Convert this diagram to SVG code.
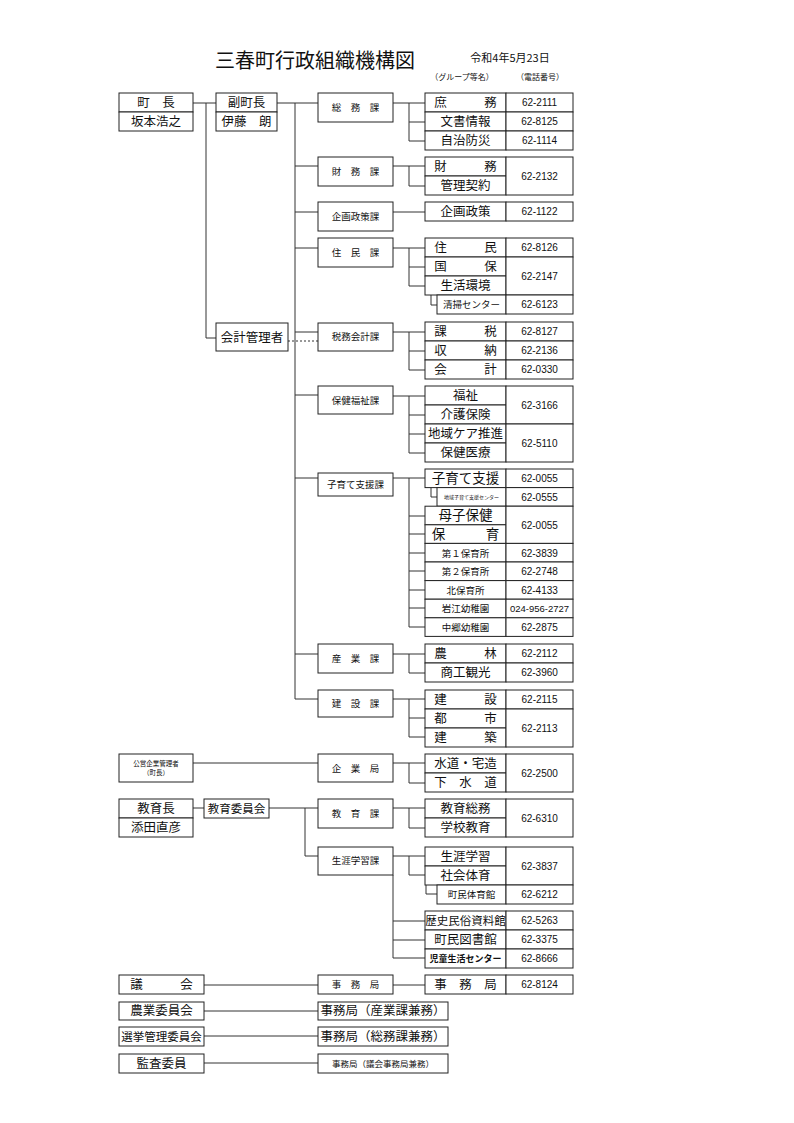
<svg xmlns="http://www.w3.org/2000/svg" width="794" height="1123" viewBox="0 0 794 1123">
<style>
rect{fill:#fff;stroke:#222;stroke-width:1}
.c path{fill:none;stroke:#333;stroke-width:1}
text{font-family:"Noto Sans CJK JP","Noto Sans",sans-serif;fill:#111;text-anchor:middle}
.n{font-size:12.5px}
.k{font-size:9.5px}
.s{font-size:9.5px}
.p{font-family:"Liberation Sans",sans-serif;font-size:10px}
</style>
<rect width="794" height="1123" style="stroke:none"/>
<text x="315" y="68" style="font-size:20px">三春町行政組織機構図</text>
<text x="510" y="62" style="font-size:11px">令和4年5月23日</text>
<text x="462" y="80" style="font-size:8px">（グループ等名）</text>
<text x="540" y="80" style="font-size:8px">（電話番号）</text>

<g class="c">
<path d="M193 103H216M206 103V338H216M277 103H318M295 103V699"/>
<path d="M295 166H318M295 212H318M295 248H318M295 332H318M295 395H318M295 478H318M295 654H318M295 699H318"/>
<path d="M288 341H318" style="stroke-dasharray:2 2"/>
<path d="M393 103H425M409 103V141H425M409 122H425"/>
<path d="M393 166H425M409 166V186H425"/>
<path d="M393 212H425"/>
<path d="M393 248H425M409 248V286H425M409 267H425M431 276V305H437"/>
<path d="M393 332H425M409 332V370H425M409 351H425"/>
<path d="M393 396H425M409 396V453H425M409 415H425M409 434H425"/>
<path d="M393 478H425M409 478V627H425M409 516H425M409 534H425M409 553H425M409 571H425M409 590H425M409 608H425M431 487.6V497H437"/>
<path d="M393 654H425M409 654V673H425"/>
<path d="M393 699H425M409 699V737H425M409 718H425"/>
<path d="M193 763H318M393 763H425M409 763V783H425"/>
<path d="M193 808H204M269 808H318M305 808V856H318M393 808H425M409 808V828H425"/>
<path d="M393 856H425M409 856V875H425M426 885V894H437M393 875V958H425M393 921H425M393 940H425"/>
<path d="M204 985H318M393 985H425M204 1011H318M204 1036H318M204 1063H318"/>
</g>

<g id="chou">
<rect x="119" y="93" width="74" height="19"/><rect x="119" y="112" width="74" height="19"/>
<text class="n" x="156" y="107">町　長</text><text class="n" x="156" y="126">坂本浩之</text>
</g>
<g id="fukuchou">
<rect x="216" y="93" width="61" height="19"/><rect x="216" y="112" width="61" height="19"/>
<text class="n" x="246.5" y="107">副町長</text><text class="n" x="246.5" y="126">伊藤　朗</text>
</g>
<g id="kaikei"><rect x="216" y="323" width="72" height="28"/><text class="n" x="252" y="342">会計管理者</text></g>

<g id="ka">
<rect x="318" y="93" width="75" height="29"/><text class="k" x="355.5" y="111">総　務　課</text>
<rect x="318" y="157" width="75" height="29"/><text class="k" x="355.5" y="175">財　務　課</text>
<rect x="318" y="202" width="75" height="29"/><text class="k" x="355.5" y="220">企画政策課</text>
<rect x="318" y="238" width="75" height="29"/><text class="k" x="355.5" y="256">住　民　課</text>
<rect x="318" y="323" width="75" height="28"/><text class="k" x="355.5" y="340">税務会計課</text>
<rect x="318" y="386" width="75" height="28"/><text class="k" x="355.5" y="404">保健福祉課</text>
<rect x="318" y="473" width="75" height="23"/><text class="k" x="355.5" y="488">子育て支援課</text>
<rect x="318" y="644" width="75" height="29"/><text class="k" x="355.5" y="662">産　業　課</text>
<rect x="318" y="690" width="75" height="27"/><text class="k" x="355.5" y="707">建　設　課</text>
</g>

<g id="soumu">
<rect x="425" y="93" width="81" height="19"/><text class="n" x="465.5" y="107">庶　　　務</text><rect x="506" y="93" width="67" height="19"/><text class="p" x="539.5" y="106">62-2111</text>
<rect x="425" y="112" width="81" height="19"/><text class="n" x="465.5" y="126">文書情報</text><rect x="506" y="112" width="67" height="19"/><text class="p" x="539.5" y="125">62-8125</text>
<rect x="425" y="131" width="81" height="19"/><text class="n" x="465.5" y="145">自治防災</text><rect x="506" y="131" width="67" height="19"/><text class="p" x="539.5" y="144">62-1114</text>
</g>
<g id="zaimu">
<rect x="425" y="157" width="81" height="19"/><text class="n" x="465.5" y="171">財　　　務</text>
<rect x="425" y="176" width="81" height="19"/><text class="n" x="465.5" y="190">管理契約</text>
<rect x="506" y="157" width="67" height="38"/><text class="p" x="539.5" y="180">62-2132</text>
</g>
<g id="kikaku">
<rect x="425" y="202" width="81" height="19"/><text class="n" x="465.5" y="216">企画政策</text><rect x="506" y="202" width="67" height="19"/><text class="p" x="539.5" y="215">62-1122</text>
</g>
<g id="juumin">
<rect x="425" y="238" width="81" height="19"/><text class="n" x="465.5" y="252">住　　　民</text><rect x="506" y="238" width="67" height="19"/><text class="p" x="539.5" y="251">62-8126</text>
<rect x="425" y="257" width="81" height="19"/><text class="n" x="465.5" y="271">国　　　保</text>
<rect x="425" y="276" width="81" height="19"/><text class="n" x="465.5" y="290">生活環境</text>
<rect x="506" y="257" width="67" height="38"/><text class="p" x="539.5" y="280">62-2147</text>
<rect x="437" y="295" width="69" height="19"/><text class="s" x="471.5" y="308">清掃センター</text><rect x="506" y="295" width="67" height="19"/><text class="p" x="539.5" y="308">62-6123</text>
</g>
<g id="zeimu">
<rect x="425" y="322" width="81" height="19"/><text class="n" x="465.5" y="336">課　　　税</text><rect x="506" y="322" width="67" height="19"/><text class="p" x="539.5" y="335">62-8127</text>
<rect x="425" y="341" width="81" height="19"/><text class="n" x="465.5" y="355">収　　　納</text><rect x="506" y="341" width="67" height="19"/><text class="p" x="539.5" y="354">62-2136</text>
<rect x="425" y="360" width="81" height="19"/><text class="n" x="465.5" y="374">会　　　計</text><rect x="506" y="360" width="67" height="19"/><text class="p" x="539.5" y="373">62-0330</text>
</g>
<g id="hoken">
<rect x="425" y="386" width="81" height="19"/><text class="n" x="465.5" y="400">福祉</text>
<rect x="425" y="405" width="81" height="19"/><text class="n" x="465.5" y="419">介護保険</text>
<rect x="506" y="386" width="67" height="38"/><text class="p" x="539.5" y="409">62-3166</text>
<rect x="425" y="424" width="81" height="19"/><text class="n" x="465.5" y="438">地域ケア推進</text>
<rect x="425" y="443" width="81" height="19"/><text class="n" x="465.5" y="457">保健医療</text>
<rect x="506" y="424" width="67" height="38"/><text class="p" x="539.5" y="447">62-5110</text>
</g>
<g id="kosodate">
<rect x="425" y="469" width="81" height="18.6"/><text class="n" x="465.5" y="483" style="font-size:13.5px">子育て支援</text><rect x="506" y="469" width="67" height="18.6"/><text class="p" x="539.5" y="482">62-0055</text>
<rect x="437" y="487.6" width="69" height="18.6"/><text x="471.5" y="499" style="font-size:5px">地域子育て支援センター</text><rect x="506" y="487.6" width="67" height="18.6"/><text class="p" x="539.5" y="500.5">62-0555</text>
<rect x="425" y="506.2" width="81" height="18.6"/><text class="n" x="465.5" y="520" style="font-size:13.5px">母子保健</text>
<rect x="425" y="524.8" width="81" height="18.6"/><text class="n" x="465.5" y="539" style="font-size:13.5px">保　　　育</text>
<rect x="506" y="506.2" width="67" height="37.2"/><text class="p" x="539.5" y="528.5">62-0055</text>
<rect x="425" y="543.4" width="81" height="18.6"/><text class="s" x="465.5" y="556.5">第１保育所</text><rect x="506" y="543.4" width="67" height="18.6"/><text class="p" x="539.5" y="556.5">62-3839</text>
<rect x="425" y="562" width="81" height="18.6"/><text class="s" x="465.5" y="575">第２保育所</text><rect x="506" y="562" width="67" height="18.6"/><text class="p" x="539.5" y="575">62-2748</text>
<rect x="425" y="580.6" width="81" height="18.6"/><text class="s" x="465.5" y="593.5">北保育所</text><rect x="506" y="580.6" width="67" height="18.6"/><text class="p" x="539.5" y="593.5">62-4133</text>
<rect x="425" y="599.2" width="81" height="18.6"/><text class="s" x="465.5" y="612">岩江幼稚園</text><rect x="506" y="599.2" width="67" height="18.6"/><text class="p" x="539.5" y="612" style="font-size:9.5px">024-956-2727</text>
<rect x="425" y="617.8" width="81" height="18.6"/><text class="s" x="465.5" y="631">中郷幼稚園</text><rect x="506" y="617.8" width="67" height="18.6"/><text class="p" x="539.5" y="631">62-2875</text>
</g>
<g id="sangyou">
<rect x="425" y="644" width="81" height="19"/><text class="n" x="465.5" y="658">農　　　林</text><rect x="506" y="644" width="67" height="19"/><text class="p" x="539.5" y="657">62-2112</text>
<rect x="425" y="663" width="81" height="19"/><text class="n" x="465.5" y="677">商工観光</text><rect x="506" y="663" width="67" height="19"/><text class="p" x="539.5" y="676">62-3960</text>
</g>
<g id="kensetsu">
<rect x="425" y="690" width="81" height="19"/><text class="n" x="465.5" y="704">建　　　設</text><rect x="506" y="690" width="67" height="19"/><text class="p" x="539.5" y="703">62-2115</text>
<rect x="425" y="709" width="81" height="19"/><text class="n" x="465.5" y="723">都　　　市</text>
<rect x="425" y="728" width="81" height="19"/><text class="n" x="465.5" y="742">建　　　築</text>
<rect x="506" y="709" width="67" height="38"/><text class="p" x="539.5" y="732">62-2113</text>
</g>

<g id="kigyou">
<rect x="119" y="754" width="74" height="28"/><text x="156" y="766" style="font-size:6.5px">公営企業管理者</text><text x="156" y="775" style="font-size:6.5px">（町長）</text>
<rect x="318" y="754" width="75" height="28"/><text class="k" x="355.5" y="772">企　業　局</text>
<rect x="425" y="754" width="81" height="19"/><text class="n" x="465.5" y="768">水道・宅造</text>
<rect x="425" y="773" width="81" height="19"/><text class="n" x="465.5" y="787">下　水　道</text>
<rect x="506" y="754" width="67" height="38"/><text class="p" x="539.5" y="777">62-2500</text>
</g>
<g id="kyouiku">
<rect x="119" y="799" width="74" height="19"/><rect x="119" y="818" width="74" height="19"/>
<text class="n" x="156" y="813">教育長</text><text class="n" x="156" y="832">添田直彦</text>
<rect x="204" y="799" width="65" height="19"/><text class="n" x="236.5" y="813" style="font-size:11.5px">教育委員会</text>
<rect x="318" y="799" width="75" height="29"/><text class="k" x="355.5" y="817">教　育　課</text>
<rect x="318" y="847" width="75" height="28"/><text class="k" x="355.5" y="864">生涯学習課</text>
<rect x="425" y="799" width="81" height="19"/><text class="n" x="465.5" y="813">教育総務</text>
<rect x="425" y="818" width="81" height="19"/><text class="n" x="465.5" y="832">学校教育</text>
<rect x="506" y="799" width="67" height="38"/><text class="p" x="539.5" y="822">62-6310</text>
<rect x="425" y="847" width="81" height="19"/><text class="n" x="465.5" y="861">生涯学習</text>
<rect x="425" y="866" width="81" height="19"/><text class="n" x="465.5" y="880">社会体育</text>
<rect x="506" y="847" width="67" height="38"/><text class="p" x="539.5" y="870">62-3837</text>
<rect x="437" y="885" width="69" height="19"/><text class="s" x="471.5" y="898">町民体育館</text><rect x="506" y="885" width="67" height="19"/><text class="p" x="539.5" y="898">62-6212</text>
<rect x="425" y="911" width="81" height="19"/><text class="n" x="465.5" y="925" style="font-size:11.5px">歴史民俗資料館</text><rect x="506" y="911" width="67" height="19"/><text class="p" x="539.5" y="924">62-5263</text>
<rect x="425" y="930" width="81" height="19"/><text class="n" x="465.5" y="944">町民図書館</text><rect x="506" y="930" width="67" height="19"/><text class="p" x="539.5" y="943">62-3375</text>
<rect x="425" y="949" width="81" height="19"/><text x="465.5" y="962" style="font-size:9px;font-weight:bold">児童生活センター</text><rect x="506" y="949" width="67" height="19"/><text class="p" x="539.5" y="962">62-8666</text>
</g>
<g id="gikai">
<rect x="119" y="975" width="85" height="19"/><text class="n" x="161.5" y="989">議　　　会</text>
<rect x="318" y="975" width="75" height="19"/><text class="k" x="355.5" y="988">事　務　局</text>
<rect x="425" y="975" width="81" height="19"/><text class="n" x="465.5" y="989">事　務　局</text><rect x="506" y="975" width="67" height="19"/><text class="p" x="539.5" y="988">62-8124</text>
</g>
<g id="nougyou">
<rect x="119" y="1002" width="85" height="18"/><text class="n" x="161.5" y="1015">農業委員会</text>
<rect x="318" y="1002" width="130" height="18"/><text class="n" x="383" y="1015">事務局（産業課兼務）</text>
</g>
<g id="senkyo">
<rect x="119" y="1027" width="85" height="19"/><text class="n" x="161.5" y="1041" style="font-size:11.5px">選挙管理委員会</text>
<rect x="318" y="1027" width="130" height="19"/><text class="n" x="383" y="1041">事務局（総務課兼務）</text>
</g>
<g id="kansa">
<rect x="119" y="1054" width="85" height="19"/><text class="n" x="161.5" y="1068">監査委員</text>
<rect x="318" y="1054" width="130" height="19"/><text class="k" x="383" y="1067" style="font-size:8.5px">事務局（議会事務局兼務）</text>
</g>
</svg>
